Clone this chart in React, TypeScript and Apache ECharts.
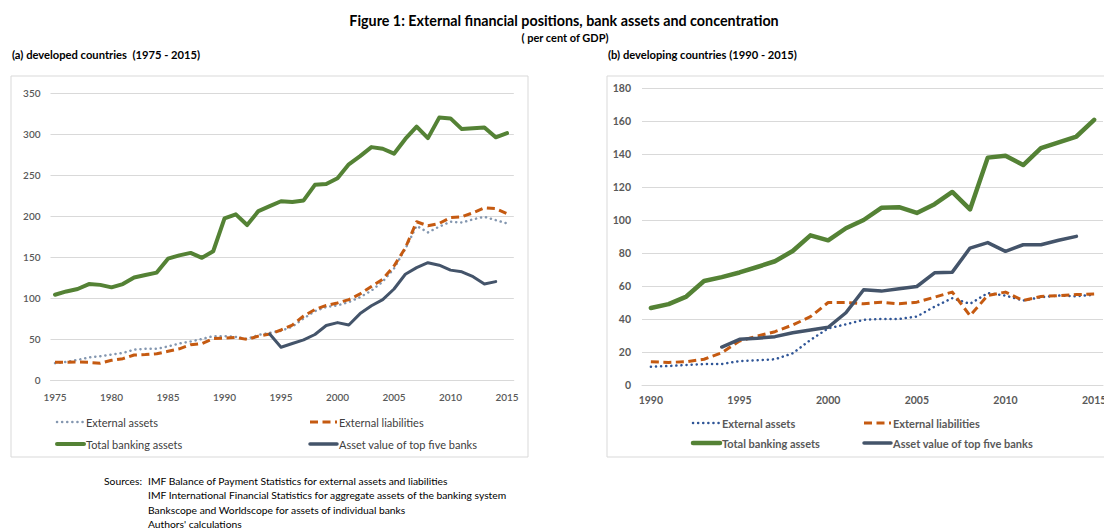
import React, { useEffect, useRef } from "react";
import * as echarts from "echarts";

// ---------- data ----------
const devYears = [
  1975, 1976, 1977, 1978, 1979, 1980, 1981, 1982, 1983, 1984, 1985, 1986, 1987, 1988,
  1989, 1990, 1991, 1992, 1993, 1994, 1995, 1996, 1997, 1998, 1999, 2000, 2001, 2002,
  2003, 2004, 2005, 2006, 2007, 2008, 2009, 2010, 2011, 2012, 2013, 2014, 2015,
];
const devExtAssets = [
  20.5, 22, 24.5, 27.5, 29, 31, 33, 37, 38, 38, 41, 44.5, 47, 50, 53.5, 53.5, 52.5, 50, 55,
  57.5, 60, 65, 75, 84, 89, 91, 95, 101, 109, 120, 136, 160, 188, 180, 187, 193, 192, 196,
  199, 195, 191,
];
const devExtLiab = [
  21.5, 21.5, 22, 21.5, 20.5, 24, 26, 30.5, 31, 32, 35, 38, 43, 44.5, 50.5, 51, 52, 49.5,
  53.5, 56, 61, 67, 78, 86, 91, 94, 98, 105, 114, 123, 139, 161, 193, 188, 191, 198, 199,
  204, 210, 209, 203,
];
const devTotal = [
  104, 108, 111, 117, 116, 113, 117, 125, 128, 131, 148, 152, 155, 149, 157, 197, 202, 189,
  206, 212, 218, 217, 219, 238, 239, 246, 263, 273, 284, 282, 276, 294, 309, 295, 320, 319,
  306, 307, 308, 296, 301,
];
const devTop5 = [
  null, null, null, null, null, null, null, null, null, null, null, null, null, null, null,
  null, null, null, null, 56, 40, 44.5, 49, 55.5, 66.5, 70, 67, 81, 90.5, 98, 111, 129, 137,
  143, 140, 134, 132, 126, 117, 120, null,
];

const dvgYears = [
  1990, 1991, 1992, 1993, 1994, 1995, 1996, 1997, 1998, 1999, 2000, 2001, 2002, 2003, 2004,
  2005, 2006, 2007, 2008, 2009, 2010, 2011, 2012, 2013, 2014, 2015,
];
const dvgExtAssets = [
  11.1, 11.5, 12.1, 12.7, 12.7, 14.5, 15, 15.6, 19.2, 27.3, 34.3, 36.8, 39.5, 40, 40, 41.5,
  47.5, 52.6, 49.2, 55.7, 54.2, 51.2, 53.2, 54.2, 53.8, 54.6,
];
const dvgExtLiab = [
  14.1, 13.7, 14.1, 15.6, 19.5, 26.7, 29.7, 32.3, 36.4, 41.4, 50, 50, 49.2, 50.2, 49.2, 50.2,
  53.2, 56.3, 42, 54.3, 56.3, 51.2, 53.6, 54.2, 54.8, 55.2,
];
const dvgTotal = [
  46.7, 49, 53.6, 63, 65.4, 68.2, 71.5, 75, 81.2, 90.7, 87.7, 95, 100, 107.4, 107.8, 104.3,
  109.6, 117, 106.4, 137.8, 139, 133.3, 143.5, 147, 150.6, 160.7,
];
const dvgTop5 = [
  null, null, null, null, 23, 27.7, 28.3, 29.3, 31.7, 33.3, 35, 43.8, 57.7, 56.9, 58.3, 59.7,
  68, 68.4, 83, 86.3, 81, 85, 85, 87.7, 90.1, null,
];

const devTicks = [1975, 1980, 1985, 1990, 1995, 2000, 2005, 2010, 2015];
const dvgTicks = [1990, 1995, 2000, 2005, 2010, 2015];

const seriesNames = [
  "External assets",
  "External liabilities",
  "Total banking assets",
  "Asset value of top five banks",
];

const titleText = "Figure 1: External financial positions, bank assets and concentration";
const subtitleText = "( per cent of GDP)";
const panelA = "(a) developed countries  (1975 - 2015)";
const panelB = "(b) developing countries (1990 - 2015)";
const sourcesLabel = "Sources:";
const sourcesLines = [
  "IMF Balance of Payment Statistics for external assets and liabilities",
  "IMF International Financial Statistics for aggregate assets of the banking system",
  "Bankscope and Worldscope for assets of individual banks",
  "Authors' calculations",
];

// ---------- styles ----------
const FONT = "Lato, 'Open Sans', sans-serif";
const GREEN = "#548235";
const ORANGE = "#C55A11";
const NAVY = "#44546A";
const DOT_A = "#8497B0";
const DOT_B = "#2F5597";
const GRID = "#D9D9D9";
const LABEL = "#595959";

function pairs(years: number[], vals: (number | null)[]) {
  const out: [number, number][] = [];
  years.forEach((y, i) => {
    const v = vals[i];
    if (v !== null && v !== undefined) out.push([y, v]);
  });
  return out;
}

export default function App() {
  const ref = useRef<HTMLDivElement>(null);

  useEffect(() => {
    if (!ref.current) return;
    const chart = echarts.init(ref.current, undefined, { renderer: "svg" });

    const mkLine = (
      name: string,
      data: [number, number][],
      idx: number,
      color: string,
      width: number,
      dash: any,
      z: number
    ) => ({
      type: "line",
      name,
      xAxisIndex: idx,
      yAxisIndex: idx,
      data,
      symbol: "none",
      showSymbol: false,
      z,
      lineStyle: {
        color,
        width,
        type: dash,
        cap: dash === "solid" ? "round" : dash[0] < 1 ? "round" : "butt",
        join: "round",
      },
      emphasis: { disabled: true },
    });

    const legendItem = (
      x: number,
      y: number,
      color: string,
      width: number,
      dash: number[] | null,
      cap: string,
      text: string,
      bold: boolean
    ) => [
      {
        type: "line",
        shape: { x1: x, y1: y, x2: x + 27, y2: y },
        style: { stroke: color, lineWidth: width, lineDash: dash || undefined, lineCap: cap },
      },
      {
        type: "text",
        x: x + 29,
        y,
        style: {
          text,
          font: `${bold ? "bold " : ""}11px ${FONT}`,
          fill: bold ? "#595959" : "#404040",
          textVerticalAlign: "middle",
        },
      },
    ];

    const graphics: any[] = [
      {
        type: "rect",
        shape: { x: 11, y: 76, width: 517, height: 381 },
        style: { fill: "none", stroke: GRID, lineWidth: 1 },
        silent: true,
      },
      {
        type: "rect",
        shape: { x: 607, y: 76, width: 560, height: 381 },
        style: { fill: "none", stroke: GRID, lineWidth: 1 },
        silent: true,
      },
      {
        type: "text",
        x: 564,
        y: 20,
        style: {
          text: titleText,
          font: `bold 14.3px ${FONT}`,
          fill: "#000",
          textAlign: "center",
          textVerticalAlign: "middle",
        },
      },
      {
        type: "text",
        x: 565,
        y: 37,
        style: {
          text: subtitleText,
          font: `bold 11px ${FONT}`,
          fill: "#000",
          textAlign: "center",
          textVerticalAlign: "middle",
        },
      },
      {
        type: "text",
        x: 12,
        y: 54,
        style: { text: panelA, font: `bold 11.2px ${FONT}`, fill: "#000", textVerticalAlign: "middle" },
      },
      {
        type: "text",
        x: 608,
        y: 54,
        style: { text: panelB, font: `bold 11.2px ${FONT}`, fill: "#000", textVerticalAlign: "middle" },
      },
      {
        type: "text",
        x: 104,
        y: 481,
        style: { text: sourcesLabel, font: `10.3px ${FONT}`, fill: "#000", textVerticalAlign: "middle" },
      },
      ...sourcesLines.map((t, i) => ({
        type: "text",
        x: 148,
        y: 481 + i * 14.3,
        style: { text: t, font: `10.3px ${FONT}`, fill: "#000", textVerticalAlign: "middle" },
      })),
      ...legendItem(57, 422, DOT_A, 2.5, [0.1, 5], "round", seriesNames[0], false),
      ...legendItem(310, 422, ORANGE, 3, [8, 4.5], "butt", seriesNames[1], false),
      ...legendItem(57, 444, GREEN, 4, null, "round", seriesNames[2], false),
      ...legendItem(310, 444, NAVY, 3.5, null, "round", seriesNames[3], false),
      ...legendItem(693, 423, DOT_B, 2.5, [0.1, 5], "round", seriesNames[0], true),
      ...legendItem(864, 423, ORANGE, 3, [8, 4.5], "butt", seriesNames[1], true),
      ...legendItem(693, 443, GREEN, 4.5, null, "round", seriesNames[2], true),
      ...legendItem(864, 443, NAVY, 3.5, null, "round", seriesNames[3], true),
    ];

    const option: any = {
      animation: false,
      backgroundColor: "#ffffff",
      grid: [
        { left: 50.5, top: 93, width: 463.3, height: 287, containLabel: false },
        { left: 642, top: 88, width: 461, height: 297, containLabel: false },
      ],
      xAxis: [
        {
          type: "value",
          gridIndex: 0,
          min: 1974.6,
          max: 2015.6,
          axisLine: { show: true, lineStyle: { color: GRID, width: 1 } },
          axisTick: { show: false },
          splitLine: { show: false },
          axisLabel: {
            customValues: devTicks,
            color: LABEL,
            fontFamily: FONT,
            fontSize: 10,
            fontWeight: 600,
            margin: 12,
            formatter: (v: number) => String(v),
          },
        },
        {
          type: "value",
          gridIndex: 1,
          min: 1989.5,
          max: 2015.5,
          axisLine: { show: true, lineStyle: { color: GRID, width: 1 } },
          axisTick: { show: false },
          splitLine: { show: false },
          axisLabel: {
            customValues: dvgTicks,
            color: LABEL,
            fontFamily: FONT,
            fontSize: 10.5,
            fontWeight: "bold",
            margin: 9,
            formatter: (v: number) => String(v),
          },
        },
      ],
      yAxis: [
        {
          type: "value",
          gridIndex: 0,
          min: 0,
          max: 350,
          interval: 50,
          axisLine: { show: false },
          axisTick: { show: false },
          splitLine: { show: true, lineStyle: { color: GRID, width: 1 } },
          axisLabel: {
            color: LABEL,
            fontFamily: FONT,
            fontSize: 10,
            fontWeight: 600,
            margin: 10,
          },
        },
        {
          type: "value",
          gridIndex: 1,
          min: 0,
          max: 180,
          interval: 20,
          axisLine: { show: false },
          axisTick: { show: false },
          splitLine: { show: true, lineStyle: { color: GRID, width: 1 } },
          axisLabel: {
            color: LABEL,
            fontFamily: FONT,
            fontSize: 10.5,
            fontWeight: "bold",
            margin: 11,
          },
        },
      ],
      series: [
        mkLine(seriesNames[0], pairs(devYears, devExtAssets), 0, DOT_A, 2.5, [0.1, 5], 2),
        mkLine(seriesNames[1], pairs(devYears, devExtLiab), 0, ORANGE, 3, [8, 4.5], 3),
        mkLine(seriesNames[2], pairs(devYears, devTotal), 0, GREEN, 4, "solid", 4),
        mkLine(seriesNames[3], pairs(devYears, devTop5), 0, NAVY, 3, "solid", 5),
        mkLine(seriesNames[0], pairs(dvgYears, dvgExtAssets), 1, DOT_B, 2.5, [0.1, 5], 2),
        mkLine(seriesNames[1], pairs(dvgYears, dvgExtLiab), 1, ORANGE, 3, [8, 4.5], 3),
        mkLine(seriesNames[2], pairs(dvgYears, dvgTotal), 1, GREEN, 4.5, "solid", 4),
        mkLine(seriesNames[3], pairs(dvgYears, dvgTop5), 1, NAVY, 3.5, "solid", 5),
      ],
      graphic: graphics,
    };

    chart.setOption(option);
    return () => chart.dispose();
  }, []);

  return (
    <div
      style={{
        position: "fixed",
        left: 0,
        top: 0,
        width: 1104,
        height: 528,
        overflow: "hidden",
        background: "#fff",
      }}
    >
      <div ref={ref} style={{ width: 1140, height: 528 }} />
    </div>
  );
}
